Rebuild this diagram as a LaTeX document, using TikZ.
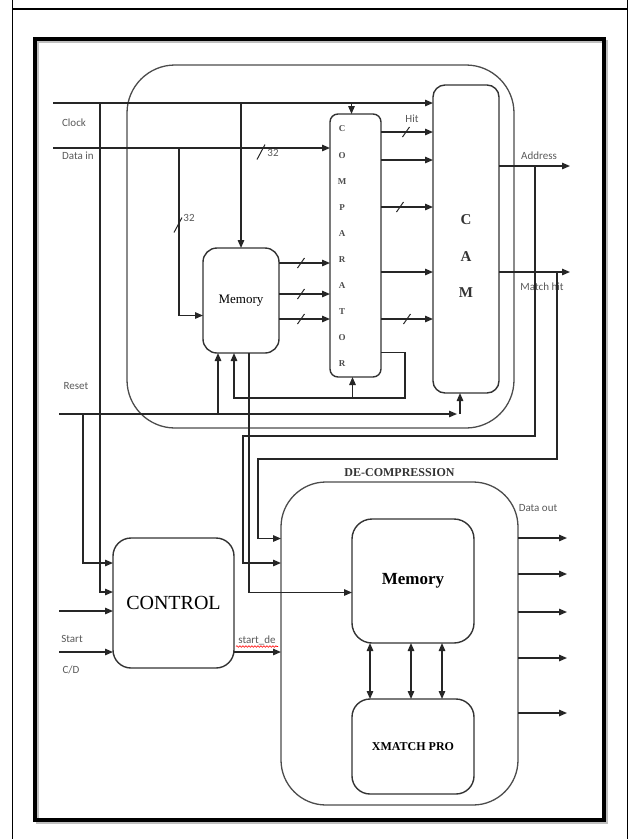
\documentclass[tikz,border=0pt]{standalone}
\usepackage{fontspec}
\setmainfont{Liberation Serif}
\setsansfont{Carlito}
\usetikzlibrary{arrows.meta, positioning, calc, decorations.pathmorphing}

\begin{document}
\begin{tikzpicture}[
    x=1pt, y=-1pt,
    box/.style={rectangle, draw=black!80, line width=1.4pt, inner sep=0pt, outer sep=0pt},
    region/.style={box, draw=black!70, line width=1.3pt},
    wire/.style={line width=1.4pt, draw=black!85},
    arw/.style={wire, -{Triangle[length=8pt, width=6.5pt]}},
    dbl/.style={wire, {Triangle[length=8pt, width=6.5pt]}-{Triangle[length=8pt, width=6.5pt]}},
    lbl/.style={font=\sffamily\fontsize{11}{12}\selectfont, text=black!65, inner sep=0pt},
    title/.style={font=\bfseries\fontsize{12}{13}\selectfont, text=black!80, inner sep=0pt},
    cmpl/.style={font=\bfseries\fontsize{9}{10}\selectfont, text=black!70, inner sep=0pt},
    bus/.pic={\draw[wire, line width=1pt] (-3.5,5) -- (3.5,-5);},
    bigbus/.pic={\draw[wire, line width=1pt] (-4,7.5) -- (4,-7.5);},
]
\useasboundingbox (0,0) rectangle (630,839);

% TABLE CELL AND FRAME
\draw[line width=1pt] (12,0) -- (12,839);
\draw[line width=1pt] (627,0) -- (627,839);
\draw[line width=2pt] (12,9) -- (627,9);
\draw[line width=3pt, black!25] (37,41) rectangle (606,822);
\draw[line width=3.5pt] (35,39) rectangle (604,820);

% COMPRESSION PART
\node[region, minimum width=387pt, minimum height=363pt, rounded corners=48pt] (comp) at (320.5,246.5) {};
\node[box, minimum width=51pt, minimum height=263pt, rounded corners=8pt] (cmp) at (355.5,245.5) {};
\node[box, minimum width=76pt, minimum height=105pt, rounded corners=14pt,
      font=\fontsize{13}{14}\selectfont] (mem1) at (241,300.5) {Memory};
\node[box, minimum width=66pt, minimum height=308pt, rounded corners=12pt] (cam) at (466,239) {};

\foreach \ch [count=\i] in {C,O,M,P,A,R,A,T,O,R}
    \node[cmpl] at (342,{129+26.1*(\i-1)}) {\ch};
\foreach \ch [count=\i] in {C,A,M}
    \node[font=\bfseries\fontsize{15}{16}\selectfont, text=black!80] at (466,{220+36.5*(\i-1)}) {\ch};

% CONTROL AND DE-COMPRESSION
\node[box, minimum width=121pt, minimum height=130pt, rounded corners=18pt,
      font=\fontsize{20}{22}\selectfont] (ctrl) at (173.5,603) {CONTROL};
\node[region, minimum width=237pt, minimum height=323pt, rounded corners=45pt] (dec) at (399.5,643.5) {};
\node[title, above=5pt of dec.north] (dectitle) {DE-COMPRESSION};
\node[box, minimum width=122pt, minimum height=124pt, rounded corners=20pt,
      font=\bfseries\fontsize{17}{18}\selectfont] (mem2) at (413,581) {Memory};
\node[box, minimum width=122pt, minimum height=95pt, rounded corners=18pt,
      font=\bfseries\fontsize{12}{13}\selectfont] (xm) at (413,746.5) {XMATCH PRO};

% INPUTS
\coordinate (clk) at (53,103);
\coordinate (din) at (53,148);
\coordinate (rst) at (59,414);
\coordinate (xin) at (59,611);
\coordinate (stin) at (59,652);
\node[lbl] (clklbl) at (74,123) {Clock};
\node[lbl] (dinlbl) at (78,156) {Data in};
\node[lbl] (rstlbl) at (76,386) {Reset};
\node[lbl] (stlbl) at (72,639) {Start};
\node[lbl] (cdlbl) at (71,670) {C/D};

% CLOCK
\draw[arw] (clk) -- (clk -| cam.west);
\draw[arw] (clk -| mem1.north) -- (mem1.north);
\draw[arw] ([xshift=-4]cmp.north |- clk) -- ([xshift=-4]cmp.north);
\coordinate (clkx) at (100,103);
\draw[arw] (clkx) |- ([yshift=11]ctrl.west);

% DATA IN
\draw[arw] (din) -- (din -| cmp.west);
\pic at (261,152) {bigbus};
\node[lbl] (n32a) at (273,153) {32};
\coordinate (dinx) at (179,148);
\draw[arw] (dinx) |- ([yshift=-15]mem1.west);
\pic at (178,225) {bigbus};
\node[lbl] (n32b) at (189,218) {32};

% MEMORY -> COMPARATOR
\foreach \dy in {37.5,6.5,-18.5} {
    \draw[arw] ([yshift=\dy]mem1.east) -- ([yshift=\dy]mem1.east -| cmp.west);
    \pic at ([yshift=\dy, xshift=22]mem1.east) {bus};
}

% COMPARATOR -> CAM
\foreach \dy in {113.5,85.5,38.5,-26.5,-73.5}
    \draw[arw] ([yshift=\dy]cmp.east) -- ([yshift=\dy]cmp.east -| cam.west);
\pic at (406,132) {bus};
\pic at (400,207) {bus};
\pic at (407,319) {bus};
\node[lbl] (hitlbl) at (412,119) {Hit};

% COMPARATOR FEEDBACK
\coordinate (fb) at (405,398);
\draw[arw] ([yshift=-107]cmp.east) -| (fb) -| ([xshift=-7]mem1.south);
\draw[arw] ([xshift=-3]cmp.south |- fb) -- ([xshift=-3]cmp.south);

% RESET
\draw[arw] (rst) -- ([xshift=-9]cam.south |- rst);
\draw[arw] ([xshift=-6]cam.south |- rst) -- ([xshift=-6]cam.south);
\draw[arw] ([xshift=-23]mem1.south |- rst) -- ([xshift=-23]mem1.south);
\coordinate (rstx) at (83,414);
\draw[arw] (rstx) |- ([yshift=40]ctrl.west);

% CAM OUTPUTS
\draw[arw] ([yshift=73]cam.east) -- ++(71,0);
\draw[arw] ([yshift=-33]cam.east) -- ++(71,0);
\node[lbl] (addrlbl) at (539,156) {Address};
\node[lbl] (mhlbl) at (542,287) {Match hit};
\coordinate (adx) at (535,166);
\coordinate (mhx) at (557,272);
\draw[arw] (adx) |- (243,436) |- ([yshift=80.5]dec.west);
\draw[arw] (mhx) |- (258,459) |- ([yshift=105]dec.west);
\draw[arw] ([xshift=8]mem1.south) |- ([yshift=-11.5]mem2.west);

% CONTROL
\draw[arw] (xin) -- (xin -| ctrl.west);
\draw[arw] (stin) -- (stin -| ctrl.west);
\draw[arw] ([yshift=-49]ctrl.east) -- ([yshift=-49]ctrl.east -| dec.west);
\node[lbl] (stdlbl) at (257,640) {start\_de};
\draw[red, line width=0.6pt, decorate, decoration={snake, amplitude=0.8pt, segment length=3pt}] (236,646.5) -- (278,646.5);

% DE-COMPRESSION
\foreach \dx in {-43,-2,29}
    \draw[dbl] ([xshift=\dx]mem2.south) -- ([xshift=\dx]xm.north);
\foreach \dy in {105.5,69.5,31.5,-14.5,-69.5}
    \draw[arw] ([yshift=\dy]dec.east) -- ++(49,0);
\node[lbl] (dolbl) at (538,508) {Data out};

\end{tikzpicture}
\end{document}
